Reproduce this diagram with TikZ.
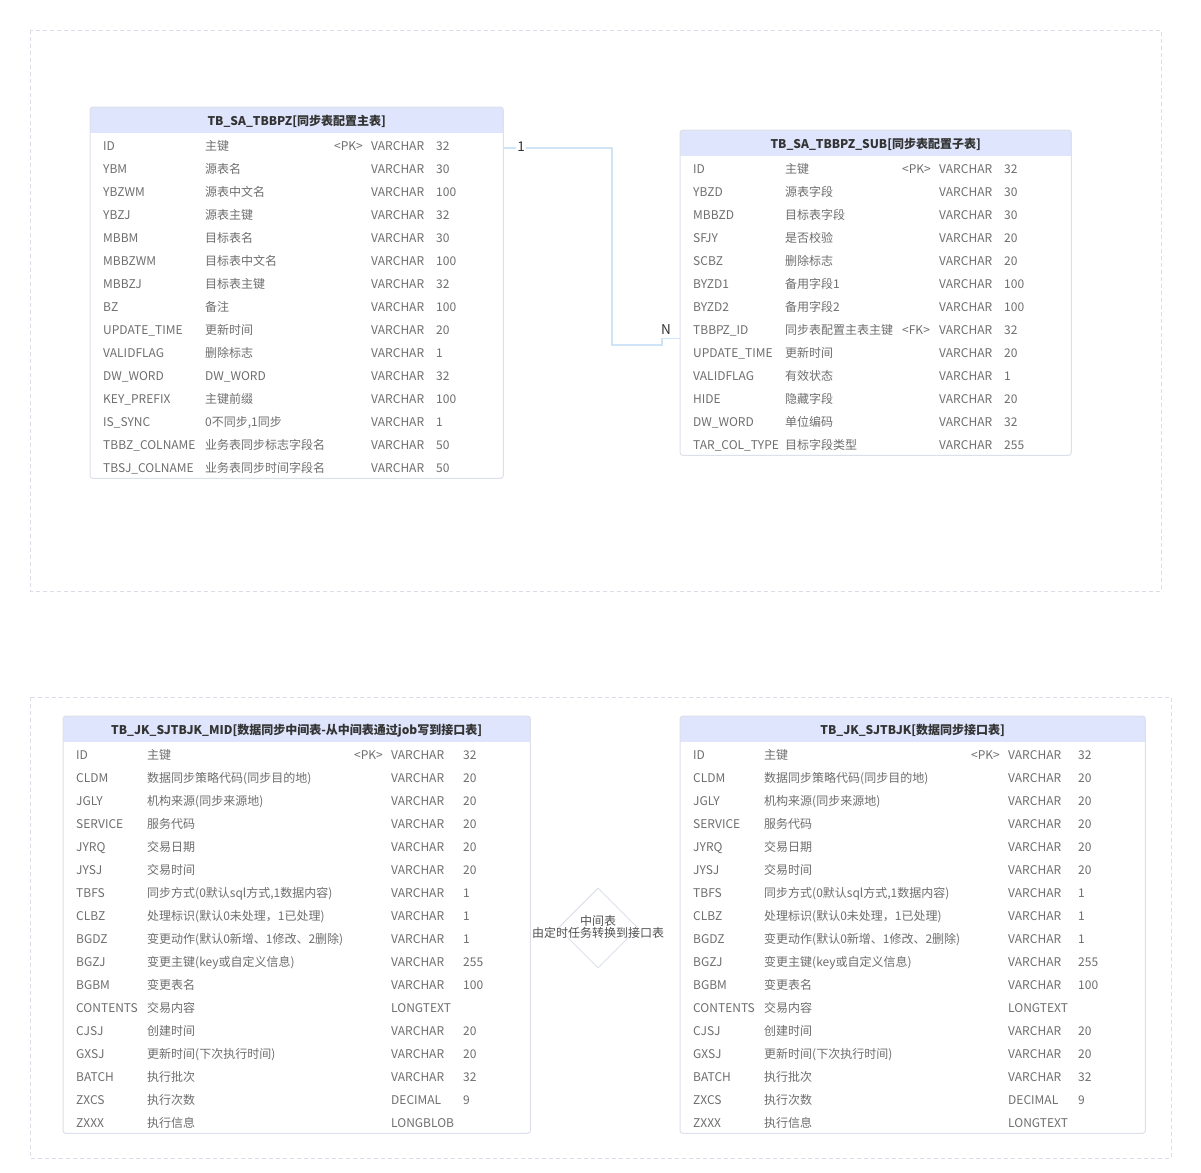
\documentclass[tikz,border=0pt]{standalone}
\usepackage{fontspec}
\setmainfont{Noto Sans CJK SC}
\usetikzlibrary{shapes.geometric}
\definecolor{framecol}{HTML}{DCDCE6}
\definecolor{tblborder}{HTML}{DDE0EA}
\definecolor{hdrfill}{HTML}{DEE5FC}
\definecolor{rowtext}{HTML}{6E6E6E}
\definecolor{hdrtext}{HTML}{333333}
\definecolor{linkcol}{HTML}{CFE5F7}
\definecolor{diamcol}{HTML}{D8DCE8}
\tikzset{
  groupframe/.style={draw=framecol, dash pattern=on 4pt off 3pt, line width=0.8pt},
  tablebox/.style={fill=white, draw=none, inner sep=0pt, anchor=north west},
  tableline/.style={draw=tblborder, line width=1pt, rounded corners=3pt},
  cell/.style={anchor=base west, inner sep=0pt, text=rowtext, font=\fontsize{12}{14}\selectfont},
  hdrtitle/.style={anchor=base, inner sep=0pt, text=hdrtext, font=\fontsize{12}{14}\selectfont\bfseries},
  conn/.style={draw=linkcol, line width=1.6pt},
  cardlbl/.style={fill=white, inner sep=1pt, text=hdrtext, font=\fontsize{13.5}{14}\selectfont},
  diam/.style={diamond, draw=diamcol, line width=0.8pt, minimum width=80pt, minimum height=80pt, inner sep=0pt},
  diamtext/.style={align=center, text=hdrtext!85, font=\fontsize{12}{12}\selectfont, inner sep=0pt}
}
% #1 table name, #2 x name, #3 x comment, #4 x key, #5 x type, #6 x length, #7 y of first row
\newcommand{\tblrows}[7]{%
  \foreach \fa/\fb/\fc/\fd/\fe [count=\i] in \rowlist {%
    \node[cell] (#1-\i-a) at (#2,{#7+5.3+23*(\i-1)}) {\fa};
    \node[cell] (#1-\i-b) at (#3,{#7+5.3+23*(\i-1)}) {\fb};
    \ifx\fc\empty\else\node[cell] (#1-\i-c) at (#4,{#7+5.3+23*(\i-1)}) {\fc};\fi
    \node[cell] (#1-\i-d) at (#5,{#7+5.3+23*(\i-1)}) {\fd};
    \ifx\fe\empty\else\node[cell] (#1-\i-e) at (#6,{#7+5.3+23*(\i-1)}) {\fe};\fi
  }%
}
% #1 name, #2 x left, #3 y top, #4 width, #5 height, #6 title
\newcommand{\tblframe}[6]{%
  \node[tablebox, minimum width=#4pt, minimum height=#5pt] (#1) at (#2,#3) {};
  \begin{scope}
    \clip[rounded corners=3pt] (#1.north west) rectangle (#1.south east);
    \fill[hdrfill] (#1.north west) rectangle ([yshift=-26pt]#1.north east);
  \end{scope}
  \draw[tableline] (#1.north west) rectangle (#1.south east);
  \node[hdrtitle] (#1h) at ([yshift=-18pt]#1.north) {#6};
}
\begin{document}
\begin{tikzpicture}[x=1pt,y=-1pt]
\useasboundingbox[fill=white] (0,0) rectangle (1201,1172);
\draw[groupframe] (30,30) rectangle (1161,591);
\draw[groupframe] (30,697) rectangle (1171,1158);

% ---------- table 1 ----------
\tblframe{t1}{90}{107}{413}{371}{TB\_SA\_TBBPZ[同步表配置主表]}
\def\rowlist{ID/主键/<PK>/VARCHAR/32,
YBM/源表名//VARCHAR/30,
YBZWM/源表中文名//VARCHAR/100,
YBZJ/源表主键//VARCHAR/32,
MBBM/目标表名//VARCHAR/30,
MBBZWM/目标表中文名//VARCHAR/100,
MBBZJ/目标表主键//VARCHAR/32,
BZ/备注//VARCHAR/100,
UPDATE\_TIME/更新时间//VARCHAR/20,
VALIDFLAG/删除标志//VARCHAR/1,
DW\_WORD/DW\_WORD//VARCHAR/32,
KEY\_PREFIX/主键前缀//VARCHAR/100,
IS\_SYNC/{0不同步,1同步}//VARCHAR/1,
TBBZ\_COLNAME/业务表同步标志字段名//VARCHAR/50,
TBSJ\_COLNAME/业务表同步时间字段名//VARCHAR/50}
\tblrows{t1}{103}{205}{334}{371}{436}{145}

% ---------- table 2 ----------
\tblframe{t2}{680}{130}{391}{325}{TB\_SA\_TBBPZ\_SUB[同步表配置子表]}
\def\rowlist{ID/主键/<PK>/VARCHAR/32,
YBZD/源表字段//VARCHAR/30,
MBBZD/目标表字段//VARCHAR/30,
SFJY/是否校验//VARCHAR/20,
SCBZ/删除标志//VARCHAR/20,
BYZD1/备用字段1//VARCHAR/100,
BYZD2/备用字段2//VARCHAR/100,
TBBPZ\_ID/同步表配置主表主键/<FK>/VARCHAR/32,
UPDATE\_TIME/更新时间//VARCHAR/20,
VALIDFLAG/有效状态//VARCHAR/1,
HIDE/隐藏字段//VARCHAR/20,
DW\_WORD/单位编码//VARCHAR/32,
TAR\_COL\_TYPE/目标字段类型//VARCHAR/255}
\tblrows{t2}{693}{785}{902}{939}{1004}{168}

% ---------- table 3 ----------
\tblframe{t3}{63}{716}{467}{417}{TB\_JK\_SJTBJK\_MID[数据同步中间表-从中间表通过job写到接口表]}
\def\rowlist{ID/主键/<PK>/VARCHAR/32,
CLDM/数据同步策略代码(同步目的地)//VARCHAR/20,
JGLY/机构来源(同步来源地)//VARCHAR/20,
SERVICE/服务代码//VARCHAR/20,
JYRQ/交易日期//VARCHAR/20,
JYSJ/交易时间//VARCHAR/20,
TBFS/{同步方式(0默认sql方式,1数据内容)}//VARCHAR/1,
CLBZ/处理标识(默认0未处理，1已处理)//VARCHAR/1,
BGDZ/变更动作(默认0新增、1修改、2删除)//VARCHAR/1,
BGZJ/变更主键(key或自定义信息)//VARCHAR/255,
BGBM/变更表名//VARCHAR/100,
CONTENTS/交易内容//LONGTEXT/,
CJSJ/创建时间//VARCHAR/20,
GXSJ/更新时间(下次执行时间)//VARCHAR/20,
BATCH/执行批次//VARCHAR/32,
ZXCS/执行次数//DECIMAL/9,
ZXXX/执行信息//LONGBLOB/}
\tblrows{t3}{76}{147}{354}{391}{463}{754}

% ---------- table 4 ----------
\tblframe{t4}{680}{716}{465}{417}{TB\_JK\_SJTBJK[数据同步接口表]}
\def\rowlist{ID/主键/<PK>/VARCHAR/32,
CLDM/数据同步策略代码(同步目的地)//VARCHAR/20,
JGLY/机构来源(同步来源地)//VARCHAR/20,
SERVICE/服务代码//VARCHAR/20,
JYRQ/交易日期//VARCHAR/20,
JYSJ/交易时间//VARCHAR/20,
TBFS/{同步方式(0默认sql方式,1数据内容)}//VARCHAR/1,
CLBZ/处理标识(默认0未处理，1已处理)//VARCHAR/1,
BGDZ/变更动作(默认0新增、1修改、2删除)//VARCHAR/1,
BGZJ/变更主键(key或自定义信息)//VARCHAR/255,
BGBM/变更表名//VARCHAR/100,
CONTENTS/交易内容//LONGTEXT/,
CJSJ/创建时间//VARCHAR/20,
GXSJ/更新时间(下次执行时间)//VARCHAR/20,
BATCH/执行批次//VARCHAR/32,
ZXCS/执行次数//DECIMAL/9,
ZXXX/执行信息//LONGTEXT/}
\tblrows{t4}{693}{764}{971}{1008}{1078}{754}

% ---------- relation 1:N ----------
\coordinate (p1) at ([yshift=-2pt]t1.east |- t1-1-a.west);
\coordinate (p2) at ([yshift=-4pt]t2.west |- t2-8-a.base);
\draw[conn] (p1) -| (612,345) -- (662,345) |- (p2);
\node[cardlbl] (l1) at (521,147) {1};
\node[cardlbl] (l2) at (666,330) {N};

% ---------- diamond ----------
\node[diam] (dm) at (598,928) {};
\node[diamtext] (dmt) at (598,927) {中间表\\由定时任务转换到接口表};
\end{tikzpicture}
\end{document}
